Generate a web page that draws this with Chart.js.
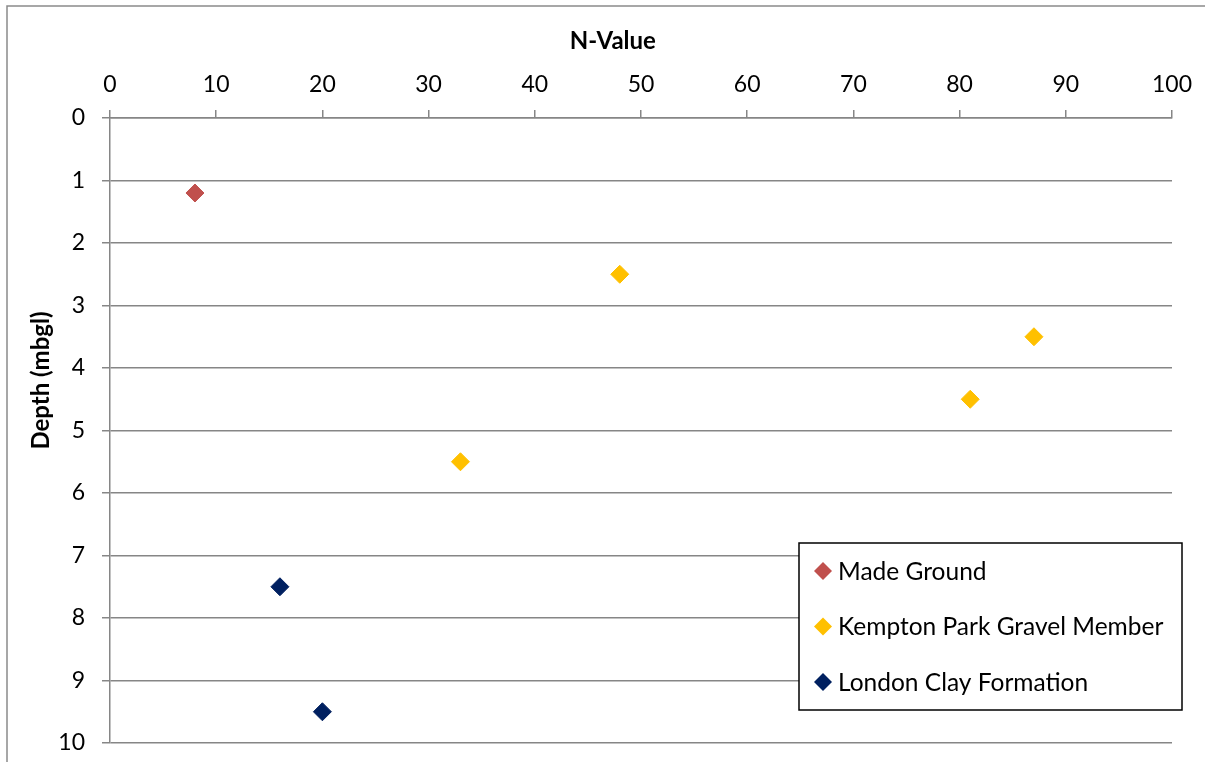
<!DOCTYPE html>
<html>
<head>
<meta charset="utf-8">
<script src="https://cdn.jsdelivr.net/npm/chart.js@4"></script>
<style>
  html, body { margin: 0; padding: 0; background: #ffffff; }
  #wrap { width: 1205px; height: 762px; position: relative; }
</style>
</head>
<body>
<div id="wrap"><canvas id="chart" width="1205" height="762"></canvas></div>
<script>
// SPT N-values against depth, grouped by stratum
const seriesNames = ['Made Ground', 'Kempton Park Gravel Member', 'London Clay Formation'];
const seriesColors = ['#C0504D', '#FFC000', '#002060'];

const madeGroundN = [8];
const madeGroundDepth = [1.2];

const kemptonN = [48, 87, 81, 33];
const kemptonDepth = [2.5, 3.5, 4.5, 5.5];

const londonClayN = [16, 20];
const londonClayDepth = [7.5, 9.5];

const xTitle = 'N-Value';
const yTitle = 'Depth (mbgl)';

const FONT = 'Lato, "Liberation Sans", sans-serif';
const AXIS_GREY = '#868686';

function toPoints(xs, ys) {
  return xs.map((x, i) => ({ x: x, y: ys[i] }));
}

const seriesData = [
  toPoints(madeGroundN, madeGroundDepth),
  toPoints(kemptonN, kemptonDepth),
  toPoints(londonClayN, londonClayDepth)
];

const datasets = seriesNames.map((name, i) => ({
  label: name,
  data: seriesData[i],
  pointStyle: 'rectRot',
  pointRadius: 9,
  pointHoverRadius: 9,
  pointBorderWidth: 1,
  backgroundColor: seriesColors[i],
  borderColor: seriesColors[i],
  showLine: false
}));

// frame line along the top and left edges of the chart
const framePlugin = {
  id: 'frame',
  beforeDraw(chart) {
    const ctx = chart.ctx;
    ctx.save();
    ctx.strokeStyle = '#8a8a8a';
    ctx.lineWidth = 1.5;
    ctx.beginPath();
    ctx.moveTo(7, chart.height + 5);
    ctx.lineTo(7, 6);
    ctx.lineTo(chart.width + 5, 6);
    ctx.stroke();
    ctx.restore();
  }
};

// axis titles
const titlesPlugin = {
  id: 'axisTitles',
  afterDraw(chart) {
    const ctx = chart.ctx;
    const area = chart.chartArea;
    ctx.save();
    ctx.fillStyle = '#000000';
    ctx.font = 'bold 24px ' + FONT;
    ctx.textAlign = 'center';
    ctx.textBaseline = 'middle';
    ctx.fillText(xTitle, area.left + (area.right - area.left) * 0.4735, 41);
    ctx.translate(41, area.top + (area.bottom - area.top) * 0.42);
    ctx.rotate(-Math.PI / 2);
    ctx.fillText(yTitle, 0, 0);
    ctx.restore();
  }
};

// boxed legend inside the plot area
const boxLegendPlugin = {
  id: 'boxLegend',
  afterDraw(chart) {
    const ctx = chart.ctx;
    const box = { x: 799, y: 543, w: 383, h: 167 };
    ctx.save();
    ctx.fillStyle = '#ffffff';
    ctx.fillRect(box.x, box.y, box.w, box.h);
    ctx.strokeStyle = '#000000';
    ctx.lineWidth = 1.5;
    ctx.strokeRect(box.x, box.y, box.w, box.h);
    ctx.font = '24.5px ' + FONT;
    ctx.textBaseline = 'middle';
    ctx.textAlign = 'left';
    chart.data.datasets.forEach((ds, i) => {
      const cy = box.y + 28 + i * 55.5;
      const cx = box.x + 24;
      const r = 9;
      ctx.fillStyle = ds.backgroundColor;
      ctx.beginPath();
      ctx.moveTo(cx - r, cy);
      ctx.lineTo(cx, cy - r);
      ctx.lineTo(cx + r, cy);
      ctx.lineTo(cx, cy + r);
      ctx.closePath();
      ctx.fill();
      ctx.fillStyle = '#000000';
      ctx.fillText(ds.label, box.x + 39, cy + 1);
    });
    ctx.restore();
  }
};

new Chart(document.getElementById('chart'), {
  type: 'scatter',
  data: { datasets: datasets },
  plugins: [framePlugin, titlesPlugin, boxLegendPlugin],
  options: {
    responsive: false,
    animation: false,
    layout: { padding: { left: 0, top: 0, right: 33, bottom: 19 } },
    plugins: {
      legend: { display: false },
      tooltip: { enabled: false }
    },
    scales: {
      x: {
        type: 'linear',
        position: 'top',
        min: 0,
        max: 100,
        afterFit(scale) {
          scale.height = 118;
          scale.paddingLeft = 0;
          scale.paddingRight = 0;
        },
        ticks: {
          stepSize: 10,
          padding: 12,
          color: '#000000',
          font: { family: FONT, size: 23 }
        },
        grid: {
          drawOnChartArea: false,
          drawTicks: true,
          tickLength: 8,
          color: AXIS_GREY,
          lineWidth: 1.5
        },
        border: { display: true, color: AXIS_GREY, width: 1.5 }
      },
      y: {
        type: 'linear',
        reverse: true,
        min: 0,
        max: 10,
        afterFit(scale) {
          scale.width = 110;
          scale.paddingTop = 0;
          scale.paddingBottom = 0;
        },
        ticks: {
          stepSize: 1,
          padding: 17,
          color: '#000000',
          font: { family: FONT, size: 23 }
        },
        grid: {
          drawOnChartArea: true,
          drawTicks: true,
          tickLength: 8,
          color: AXIS_GREY,
          lineWidth: 1.5
        },
        border: { display: true, color: AXIS_GREY, width: 1.5 }
      }
    }
  }
});
</script>
</body>
</html>
